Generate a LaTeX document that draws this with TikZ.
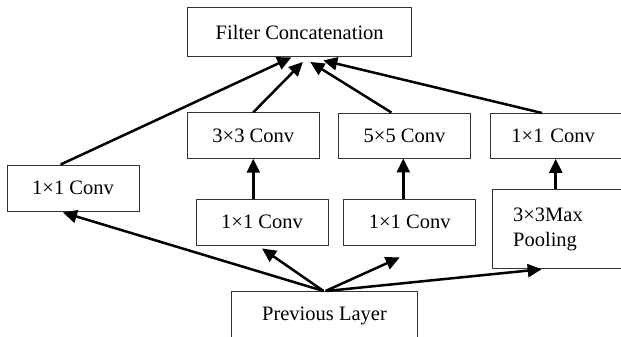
\documentclass[tikz,border=0pt]{standalone}
\usepackage{fontspec}
\setmainfont{Liberation Serif}
\usetikzlibrary{arrows.meta,calc}
\begin{document}
\begin{tikzpicture}[x=1pt,y=-1pt,
  box/.style={draw=black!80,line width=0.9pt,inner sep=0pt,align=center,
    font=\fontsize{20.5}{25}\selectfont},
  sidebox/.style={box,anchor=north west,text width=108pt,align=left,inner xsep=21pt,inner ysep=0pt},
  arr/.style={line width=2.5pt,-{Triangle[length=14pt,width=13pt]}}]
\useasboundingbox (0,0) rectangle (621,337);
\clip (0,0) rectangle (621,337);
\node[box,minimum width=224pt,minimum height=49pt] (filter) at (299.7,32) {Filter Concatenation};
\node[box,minimum width=132pt,minimum height=46pt] (left1) at (73,188) {1×1 Conv};
\node[box,minimum width=132pt,minimum height=45.5pt] (c3) at (253.3,135.5) {3×3 Conv};
\node[box,minimum width=132pt,minimum height=45pt] (c5) at (404.5,135.5) {5×5 Conv};
\node[sidebox,minimum height=45pt] (r1) at (490,113) {1×1 Conv};
\node[box,minimum width=132pt,minimum height=46pt] (mid1) at (262,222) {1×1 Conv};
\node[box,minimum width=132pt,minimum height=46pt] (mid2) at (409.7,222) {1×1 Conv};
\node[sidebox,minimum height=79pt] (pool) at (491.7,189.3) {3×3Max\\Pooling};
\node[box,anchor=north,minimum width=185.6pt,text height=29pt,text depth=30pt] (prev) at (324.5,291) {Previous Layer};
\coordinate (c5in) at ($(c5.south)+(-1.2,0)$);
\coordinate (r1in) at ($(r1.south west)+(65.7,0)$);
% connectors from previous layer
\draw[arr] ([xshift=-1pt]prev.north) -- ([xshift=-10pt,yshift=-1pt]left1.south);
\draw[arr] ([xshift=-1pt]prev.north) -- ([yshift=-3pt]mid1.south);
\draw[arr] ([xshift=1pt]prev.north) -- ([xshift=-10pt,yshift=-12pt]mid2.south);
\draw[arr] ([xshift=2pt]prev.north) -- ($(pool.south west)+(50,0)$);
% vertical connectors
\draw[arr] (mid1.north -| c3.south) -- (c3.south);
\draw[arr] (mid2.north -| c5in) -- (c5in);
\draw[arr] (pool.north -| r1in) -- (r1in);
% to filter concatenation
\draw[arr] ($(left1.north west)+(54,0)$) -- ($(filter.south west)+(104,0.5)$);
\draw[arr] (c3.north) -- ($(filter.south west)+(115.6,5)$);
\draw[arr] ($(c5.north west)+(53.4,0)$) -- ($(filter.south west)+(123,5)$);
\draw[arr] ($(r1.north west)+(52,0)$) -- ($(filter.south west)+(136,3.5)$);
\end{tikzpicture}
\end{document}
